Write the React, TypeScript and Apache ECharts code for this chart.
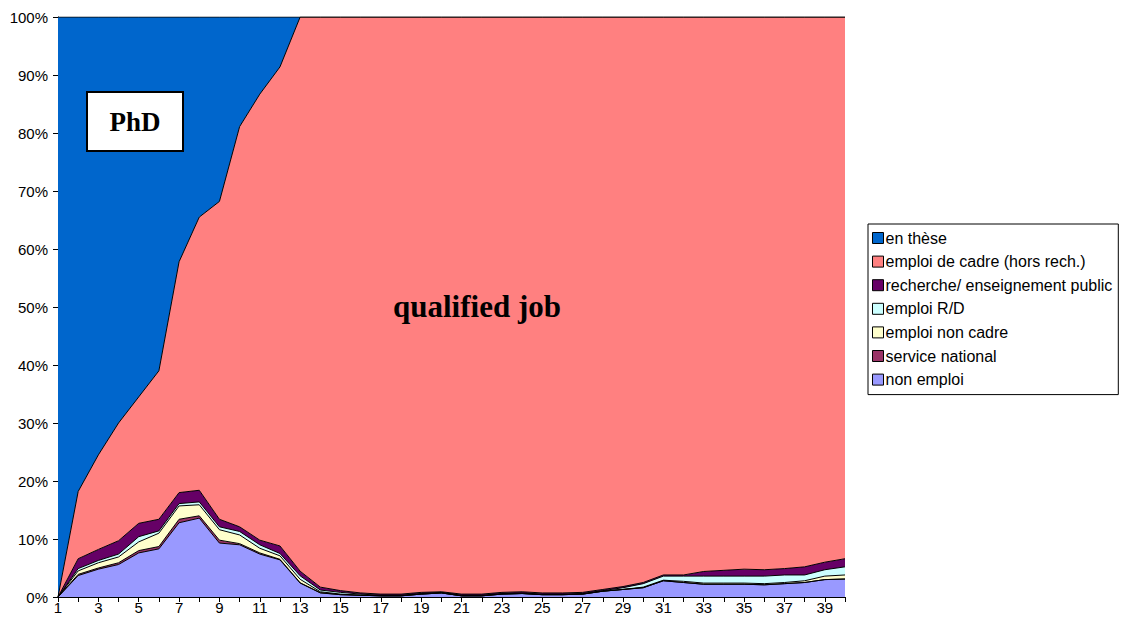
import React, { useEffect, useRef } from "react";
import * as echarts from "echarts";

const categories = Array.from({ length: 40 }, (_, i) => String(i + 1));

const nonEmploi = [0, 3.7, 4.8, 5.6, 7.6, 8.3, 12.8, 13.6, 9.3, 9.0, 7.4, 6.4, 2.4, 0.7, 0.4, 0.3, 0.2, 0.2, 0.5, 0.7, 0.2, 0.2, 0.5, 0.6, 0.4, 0.4, 0.5, 1.0, 1.3, 1.6, 2.8, 2.5, 2.2, 2.2, 2.2, 2.1, 2.3, 2.5, 3.0, 3.1];
const serviceNational = [0, 0.2, 0.2, 0.3, 0.4, 0.4, 0.6, 0.4, 0.5, 0.2, 0.2, 0.1, 0.05, 0.05, 0, 0, 0, 0, 0, 0, 0, 0, 0, 0, 0, 0, 0, 0, 0, 0, 0, 0, 0, 0, 0, 0, 0, 0, 0, 0];
const emploiNonCadre = [0, 0.6, 0.9, 1.0, 1.5, 2.3, 2.3, 1.9, 1.8, 1.5, 0.8, 0.6, 0.6, 0.15, 0.1, 0, 0, 0, 0, 0, 0, 0, 0, 0, 0, 0, 0, 0, 0, 0.1, 0.1, 0.2, 0.2, 0.2, 0.2, 0.2, 0.2, 0.3, 0.6, 0.7];
const emploiRD = [0, 0.4, 0.4, 0.5, 0.9, 0.4, 0.4, 0.5, 0.5, 0.6, 0.6, 0.4, 0.6, 0.3, 0.3, 0.2, 0.1, 0.1, 0.1, 0.1, 0.1, 0.1, 0.1, 0.1, 0.1, 0.1, 0.1, 0.1, 0.3, 0.6, 0.7, 0.9, 1.2, 1.2, 1.2, 1.3, 1.3, 1.0, 1.1, 1.4];
const recherche = [0, 1.7, 1.9, 2.3, 2.3, 2.0, 1.9, 2.0, 1.3, 0.8, 0.8, 1.3, 0.8, 0.5, 0.3, 0.2, 0.2, 0.2, 0.2, 0.1, 0.2, 0.2, 0.2, 0.2, 0.2, 0.2, 0.2, 0.2, 0.2, 0.2, 0.2, 0.2, 0.8, 1.0, 1.2, 1.1, 1.1, 1.4, 1.3, 1.4];
const enThese = [100, 81.8, 75.5, 70, 65.5, 61, 42.2, 34.5, 31.8, 18.9, 13.3, 8.6, 0, 0, 0, 0, 0, 0, 0, 0, 0, 0, 0, 0, 0, 0, 0, 0, 0, 0, 0, 0, 0, 0, 0, 0, 0, 0, 0, 0];
// emploi de cadre = remainder up to 100%
const emploiCadre = categories.map((_, i) =>
  Math.max(0, +(100 - enThese[i] - nonEmploi[i] - serviceNational[i] - emploiNonCadre[i] - emploiRD[i] - recherche[i]).toFixed(2))
);

const seriesDefs = [
  { name: "non emploi", data: nonEmploi, color: "#9999FF" },
  { name: "service national", data: serviceNational, color: "#993366" },
  { name: "emploi non cadre", data: emploiNonCadre, color: "#FFFFCC" },
  { name: "emploi R/D", data: emploiRD, color: "#CCFFFF" },
  { name: "recherche/ enseignement public", data: recherche, color: "#660066" },
  { name: "emploi de cadre (hors rech.)", data: emploiCadre, color: "#FF8080" },
  { name: "en thèse", data: enThese, color: "#0066CC" },
];

const legendOrder = [
  "en thèse",
  "emploi de cadre (hors rech.)",
  "recherche/ enseignement public",
  "emploi R/D",
  "emploi non cadre",
  "service national",
  "non emploi",
];

export default function App() {
  const ref = useRef<HTMLDivElement>(null);
  useEffect(() => {
    if (!ref.current) return;
    const chart = echarts.init(ref.current, null, { renderer: "svg" });
    const font = "'Liberation Sans', Arial, sans-serif";
    const serif = "'Liberation Serif', 'Times New Roman', serif";
    chart.setOption({
      animation: false,
      backgroundColor: "#ffffff",
      grid: { left: 58, top: 17, width: 787, height: 580, containLabel: false },
      legend: {
        data: legendOrder.map((n) => ({ name: n, icon: "rect" })),
        orient: "vertical",
        left: 868,
        top: 224,
        padding: [5, 6, 6, 4],
        itemGap: 5.6,
        itemWidth: 11,
        itemHeight: 11,
        borderColor: "#000",
        borderWidth: 1,
        backgroundColor: "#fff",
        selectedMode: false,
        itemStyle: { borderColor: "#000", borderWidth: 1 },
        textStyle: { fontFamily: font, fontSize: 16, color: "#000", padding: [0, 0, 0, -3], lineHeight: 18 },
      },
      xAxis: {
        type: "category",
        data: categories,
        boundaryGap: false,
        axisLine: { lineStyle: { color: "#000", width: 1 } },
        axisTick: { show: true, interval: 0, length: 5, lineStyle: { color: "#000" } },
        axisLabel: { interval: 1, color: "#000", fontFamily: font, fontSize: 15, margin: 3 },
        splitLine: { show: false },
      },
      yAxis: {
        type: "value",
        min: 0,
        max: 100,
        interval: 10,
        axisLine: { show: true, lineStyle: { color: "#000", width: 1 } },
        axisTick: { show: true, length: 5, lineStyle: { color: "#000" } },
        axisLabel: { formatter: "{value}%", color: "#000", fontFamily: font, fontSize: 15, margin: 10 },
        splitLine: { show: false },
      },
      series: seriesDefs.map((s) => ({
        name: s.name,
        type: "line",
        stack: "total",
        data: s.data,
        symbol: "none",
        showSymbol: false,
        color: s.color,
        itemStyle: { color: s.color },
        lineStyle: { color: "#000", width: 1 },
        areaStyle: { color: s.color, opacity: 1 },
        z: 2,
      })),
      graphic: [
        {
          type: "rect",
          z: 100,
          shape: { x: 87, y: 92, width: 96, height: 59 },
          style: { fill: "#fff", stroke: "#000", lineWidth: 2 },
        },
        {
          type: "text",
          z: 101,
          x: 135,
          y: 122,
          style: { text: "PhD", fill: "#000", font: "bold 27px " + serif, align: "center", verticalAlign: "middle" },
        },
        {
          type: "text",
          z: 101,
          x: 477,
          y: 306,
          style: { text: "qualified job", fill: "#000", font: "bold 31px " + serif, align: "center", verticalAlign: "middle" },
        },
      ],
    });
    return () => chart.dispose();
  }, []);
  return <div ref={ref} style={{ position: "fixed", left: 0, top: 0, width: 1128, height: 619 }} />;
}
